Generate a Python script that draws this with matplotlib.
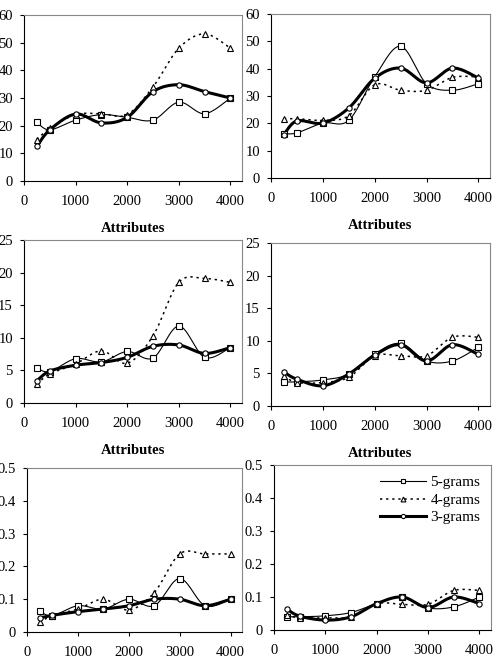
import numpy as np
import matplotlib
matplotlib.use("Agg")
import matplotlib.pyplot as plt
from matplotlib.lines import Line2D

plt.rcParams['font.family'] = ['Liberation Serif', 'DejaVu Serif']

attributes = [250, 500, 1000, 1500, 2000, 2500, 3000, 3500, 4000]

# one entry per panel: (5-grams, 4-grams, 3-grams)
p1_5 = [21.2, 18.5, 22.0, 24.0, 23.0, 22.0, 28.5, 24.3, 30.0]
p1_4 = [15.0, 19.0, 24.0, 24.3, 24.0, 34.0, 48.0, 53.2, 48.0]
p1_3 = [12.5, 18.5, 24.2, 21.0, 23.0, 32.3, 34.8, 32.3, 30.0]

p2_5 = [16.2, 16.5, 20.1, 21.1, 37.0, 48.2, 34.5, 32.1, 34.5]
p2_4 = [21.7, 21.7, 21.1, 22.8, 34.1, 32.1, 32.1, 36.8, 37.0]
p2_3 = [15.9, 20.9, 20.1, 25.6, 36.5, 40.2, 34.8, 40.2, 36.6]

p3_5 = [5.4, 4.8, 6.8, 6.3, 7.9, 6.9, 11.8, 7.0, 8.5]
p3_4 = [2.9, 4.45, 6.0, 8.0, 6.1, 10.3, 18.5, 19.1, 18.5]
p3_3 = [3.4, 4.9, 5.8, 6.2, 7.0, 8.7, 8.9, 7.6, 8.5]

p4_5 = [3.7, 3.7, 4.0, 4.9, 8.0, 9.6, 6.9, 6.9, 9.0]
p4_4 = [4.6, 3.6, 3.6, 4.4, 7.7, 7.7, 7.7, 10.55, 10.55]
p4_3 = [5.2, 4.1, 3.1, 4.9, 7.8, 9.4, 6.9, 9.4, 7.9]

p5_5 = [0.063, 0.05, 0.08, 0.07, 0.10, 0.08, 0.163, 0.08, 0.10]
p5_4 = [0.029, 0.05, 0.07, 0.10, 0.067, 0.12, 0.238, 0.238, 0.238]
p5_3 = [0.043, 0.051, 0.062, 0.07, 0.08, 0.10, 0.10, 0.08, 0.10]

p6_5 = [0.04, 0.04, 0.043, 0.053, 0.08, 0.10, 0.067, 0.07, 0.10]
p6_4 = [0.045, 0.037, 0.037, 0.04, 0.08, 0.078, 0.078, 0.12, 0.12]
p6_3 = [0.063, 0.042, 0.03, 0.04, 0.08, 0.10, 0.068, 0.10, 0.08]

panels = [
    (p1_5, p1_4, p1_3, 60, 10),
    (p2_5, p2_4, p2_3, 60, 10),
    (p3_5, p3_4, p3_3, 25, 5),
    (p4_5, p4_4, p4_3, 25, 5),
    (p5_5, p5_4, p5_3, 0.5, 0.1),
    (p6_5, p6_4, p6_3, 0.5, 0.1),
]

# axes boxes in pixels: left, right, top, bottom
boxes = [
    (24, 242, 15, 181), (271, 490, 14, 178),
    (24, 242, 240, 403), (271, 490, 243, 406),
    (27, 242, 468, 632), (274, 491, 465, 630),
]

W, H = 496, 670


def smooth(x, y, n=30):
    # excel-like smoothed line: catmull-rom bezier segments
    x = np.asarray(x, float)
    y = np.asarray(y, float)
    px = np.concatenate([[x[0]], x, [x[-1]]])
    py = np.concatenate([[y[0]], y, [y[-1]]])
    t = np.linspace(0, 1, n)[:, None]
    xs, ys = [], []
    for i in range(1, len(px) - 2):
        p0 = np.array([px[i], py[i]])
        p3 = np.array([px[i + 1], py[i + 1]])
        c1 = p0 + (np.array([px[i + 1], py[i + 1]]) - np.array([px[i - 1], py[i - 1]])) / 6
        c2 = p3 - (np.array([px[i + 2], py[i + 2]]) - p0) / 6
        b = ((1 - t) ** 3) * p0 + 3 * ((1 - t) ** 2) * t * c1 + 3 * (1 - t) * t ** 2 * c2 + t ** 3 * p3
        xs.append(b[:, 0])
        ys.append(b[:, 1])
    return np.concatenate(xs), np.concatenate(ys)


styles = [
    dict(ls='-', lw=0.8, marker='s', ms=4.0, label='5-grams'),
    dict(ls=(0, (1.5, 2.5)), lw=1.1, marker='^', ms=4.3, label='4-grams'),
    dict(ls='-', lw=2.2, marker='o', ms=3.8, label='3-grams'),
]

fig = plt.figure(figsize=(W / 100, H / 100), dpi=100)

for k, (s5, s4, s3, ymax, ystep) in enumerate(panels):
    l, r, t, b = boxes[k]
    ax = fig.add_axes([l / W, 1 - b / H, (r - l) / W, (b - t) / H])
    for series, st in zip([s5, s4, s3], styles):
        sx, sy = smooth(attributes, series)
        ax.plot(sx, sy, color='black', ls=st['ls'], lw=st['lw'], zorder=2)
        ax.plot(attributes, series, ls='none', marker=st['marker'], ms=st['ms'],
                mfc='white', mec='black', mew=0.8, zorder=3)
    ax.set_xlim(0, 4225)
    ax.set_ylim(0, ymax)
    ax.set_xticks([0, 1000, 2000, 3000, 4000])
    ax.set_yticks(np.arange(0, ymax + ystep / 2, ystep))
    if ymax < 1:
        ax.set_yticklabels(['0'] + [f'{v:.1f}' for v in np.arange(ystep, ymax + ystep / 2, ystep)])
    ax.tick_params(labelsize=10.5, length=3, width=0.8, direction='out')
    ax.tick_params(axis='x', pad=7)
    ax.tick_params(axis='y', pad=5)
    for side in ['top', 'right']:
        ax.spines[side].set_color('#888888')
    for side in ['left', 'bottom']:
        ax.spines[side].set_color('black')
    if k < 4:
        ax.set_xlabel('Attributes', fontsize=10.5, fontweight='bold', labelpad=10)
    if k == 5:
        handles = [Line2D([], [], color='black', ls=st['ls'], lw=st['lw'], marker=st['marker'],
                          ms=st['ms'] - 0.8, mfc='white', mec='black', mew=0.8)
                   for st in styles]
        ax.legend(handles, [st['label'] for st in styles], loc='upper right', frameon=False,
                  fontsize=11, handlelength=3.0, handletextpad=0.3, labelspacing=0.25,
                  borderaxespad=0.3)

fig.savefig('out.png', dpi=100)
